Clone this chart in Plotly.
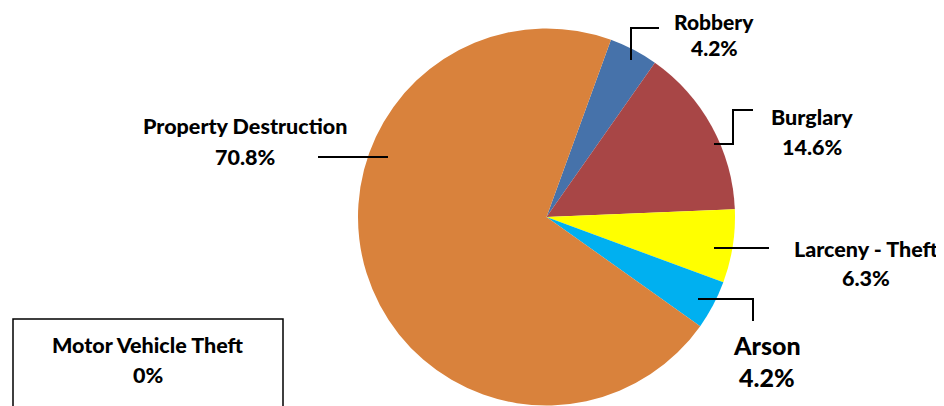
import plotly.graph_objects as go

W, H = 944, 406
OFF = 8  # page body margin in the browser

# data
categories = ["Robbery", "Burglary", "Larceny - Theft", "Arson",
              "Property Destruction", "Motor Vehicle Theft"]
shares = [4.2, 14.6, 6.3, 4.2, 70.8, 0.0]
pct_labels = ["4.2%", "14.6%", "6.3%", "4.2%", "70.8%", "0%"]
colors = ["#4672AA", "#A84646", "#FFFF00", "#00B0F0", "#D9823C", "#8064A2"]

# pie geometry in pixels (centre and radius)
cx, cy, r = 546.5, 217, 188.5


def px(x):
    return (x - OFF) / W


def py(y):
    return 1 - (y - OFF) / H


fig = go.Figure()
fig.add_trace(go.Pie(
    labels=categories, values=shares, sort=False, direction="clockwise",
    rotation=20, textinfo="none", hoverinfo="label+percent",
    marker=dict(colors=colors, line=dict(width=0)),
    domain=dict(x=[px(cx - r), px(cx + r)], y=[py(cy + r), py(cy - r)]),
    showlegend=False,
))

# label placement (pixel centres of the name line and the percent line)
label_pos = {
    "Robbery": (714, 21, 48, 21),
    "Burglary": (812, 117, 147, 21.5),
    "Larceny - Theft": (866, 249, 278, 21.5),
    "Arson": (767, 345, 377, 25),
    "Property Destruction": (245, 126, 157, 21.5),
    "Motor Vehicle Theft": (148, 345, 375, 21.5),
}

font = "Lato, 'Open Sans', sans-serif"
for name, pct in zip(categories, pct_labels):
    x, y1, y2, size = label_pos[name]
    for txt, yy in ((name, y1), (pct, y2)):
        fig.add_annotation(x=px(x), y=py(yy), xref="paper", yref="paper",
                           text=txt, showarrow=False,
                           xanchor="center", yanchor="middle",
                           font=dict(family=font, size=size, color="black",
                                     weight=900))

# leader lines
leaders = [
    [(631, 60), (631, 28), (659, 28)],
    [(714, 144), (733, 144), (733, 110), (753, 110)],
    [(714, 248), (769, 248)],
    [(698, 299), (753, 299), (753, 321)],
    [(318, 157), (388, 157)],
]
for pts in leaders:
    path = "M " + " L ".join("%f,%f" % (px(a), py(b)) for a, b in pts)
    fig.add_shape(type="path", path=path, xref="paper", yref="paper",
                  line=dict(color="black", width=2))

# box around the zero-share category
fig.add_shape(type="rect", xref="paper", yref="paper",
              x0=px(13), x1=px(283), y0=py(412), y1=py(319),
              line=dict(color="black", width=1.5))

fig.update_layout(width=W, height=H, margin=dict(l=0, r=0, t=0, b=0),
                  paper_bgcolor="white", plot_bgcolor="white")
fig.write_html("out.html")
